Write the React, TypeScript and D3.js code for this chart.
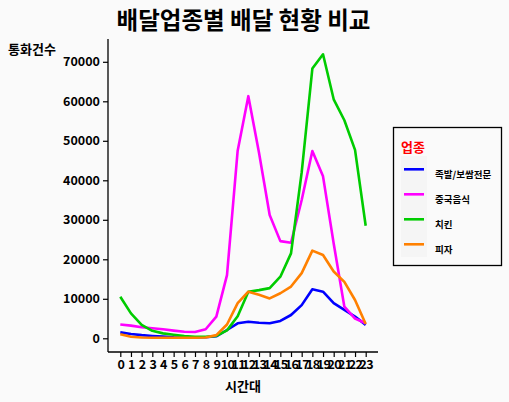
import { useRef, useEffect } from 'react';
import * as d3 from 'd3';

const hours = d3.range(0, 24);
const yTicks = [0, 10000, 20000, 30000, 40000, 50000, 60000, 70000];

const jokbal = [1500, 1100, 800, 600, 420, 250, 200, 200, 250, 500, 2100, 3800, 4200, 3950, 3800, 4400, 5900, 8400, 12400, 11800, 8900, 7200, 5500, 3400];
const chinese = [3500, 3200, 2800, 2550, 2300, 1950, 1650, 1600, 2300, 5500, 16000, 47500, 61300, 47000, 31200, 24600, 24200, 35000, 47400, 41000, 24000, 8000, 5000, 3800];
const chicken = [10500, 6300, 3400, 1900, 1250, 900, 600, 400, 400, 600, 2000, 5600, 11800, 12200, 12700, 15600, 21500, 42000, 68300, 71900, 60500, 55200, 47700, 28500];
const pizza = [1000, 400, 200, 150, 150, 150, 150, 150, 200, 800, 3500, 8900, 11800, 11000, 10100, 11400, 13100, 16500, 22200, 21100, 16900, 14300, 9700, 3600];

const seriesNames = ['족발/보쌈전문', '중국음식', '치킨', '피자'];
const seriesColors = ['#0000ff', '#ff00ff', '#00cc00', '#ff8000'];
const seriesValues = [jokbal, chinese, chicken, pizza];

const W = 509;
const H = 402;
const FONT = '"Noto Sans CJK KR", "Noto Sans", sans-serif';

export default function App(): JSX.Element {
  const svgRef = useRef<SVGSVGElement | null>(null);

  useEffect(() => {
    document.body.style.margin = '0';
    if (!svgRef.current) return;
    const svg = d3.select(svgRef.current);
    svg.selectAll('*').remove();

    svg.append('rect').attr('width', W).attr('height', H).attr('fill', '#fafafa');

    const x = d3.scaleLinear().domain([0, 23]).range([120.3, 365.7]);
    const y = d3.scaleLinear().domain([0, 70000]).range([338.3, 61.8]);

    // lines
    const line = d3.line<number>()
      .x((_, i) => x(hours[i]))
      .y(d => y(d));

    seriesValues.forEach((vals, i) => {
      svg.append('path')
        .datum(vals)
        .attr('d', line)
        .attr('fill', 'none')
        .attr('stroke', seriesColors[i])
        .attr('stroke-width', 2.6)
        .attr('stroke-linejoin', 'round');
    });

    // axes
    const yAxis = svg.append('g')
      .attr('transform', 'translate(108,0)')
      .call(d3.axisLeft(y).tickValues(yTicks).tickSize(5).tickPadding(3).tickSizeOuter(0).tickFormat(d3.format('d')));
    yAxis.select('.domain').attr('d', 'M0,39V352').attr('stroke-width', 1.3);

    const xAxis = svg.append('g')
      .attr('transform', 'translate(0,352)')
      .call(d3.axisBottom(x).tickValues(hours).tickSize(5).tickPadding(3).tickSizeOuter(0).tickFormat(d3.format('d')));
    xAxis.select('.domain').attr('d', 'M108,0H378').attr('stroke-width', 1.3);

    [yAxis, xAxis].forEach(g => {
      g.selectAll('text')
        .attr('fill', '#000')
        .style('font-family', FONT)
        .style('font-weight', 'bold')
        .style('font-size', '12.5px');
      g.selectAll('.tick line').attr('stroke', '#000').attr('stroke-width', 1.2);
    });
    xAxis.selectAll('text').style('font-size', '12.5px').attr('letter-spacing', '-0.6');

    // titles
    svg.append('text')
      .attr('x', 243.5).attr('y', 29)
      .attr('text-anchor', 'middle')
      .style('font-family', FONT).style('font-weight', 'bold').style('font-size', '23.5px')
      .text('배달업종별 배달 현황 비교');

    svg.append('text')
      .attr('x', 8).attr('y', 54)
      .style('font-family', FONT).style('font-weight', 'bold').style('font-size', '13px')
      .text('통화건수');

    svg.append('text')
      .attr('x', 243).attr('y', 391)
      .attr('text-anchor', 'middle')
      .style('font-family', FONT).style('font-weight', 'bold').style('font-size', '13px')
      .text('시간대');

    // legend
    const lg = svg.append('g');
    lg.append('rect')
      .attr('x', 393.5).attr('y', 127.5).attr('width', 108).attr('height', 138)
      .attr('fill', '#fafafa').attr('stroke', '#000').attr('stroke-width', 1.3);
    lg.append('text')
      .attr('x', 401).attr('y', 152)
      .attr('fill', '#ff0000')
      .style('font-family', FONT).style('font-weight', 'bold').style('font-size', '13px')
      .text('업종');
    lg.append('rect')
      .attr('x', 401).attr('y', 156).attr('width', 26).attr('height', 101)
      .attr('fill', '#f5f5f5');
    const ky = d3.scalePoint<string>().domain(seriesNames).range([169.3, 244.3]);
    seriesNames.forEach((name, i) => {
      lg.append('line')
        .attr('x1', 404).attr('x2', 424)
        .attr('y1', ky(name)!).attr('y2', ky(name)!)
        .attr('stroke', seriesColors[i]).attr('stroke-width', 2.6);
      lg.append('text')
        .attr('x', 435).attr('y', ky(name)! + 9)
        .style('font-family', FONT).style('font-weight', 'bold').style('font-size', '9.5px')
        .text(name);
    });
  }, []);

  return <svg ref={svgRef} width={W} height={H} style={{ display: 'block' }} />;
}
